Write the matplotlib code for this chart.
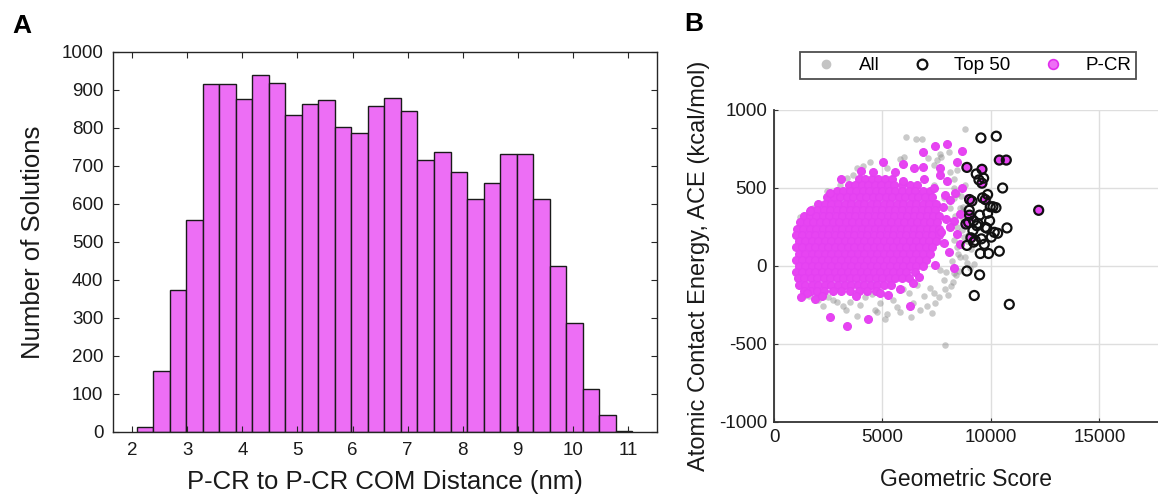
import numpy as np
import matplotlib
matplotlib.use("Agg")
import matplotlib.pyplot as plt
from matplotlib.lines import Line2D

plt.rcParams['font.family'] = ['Liberation Sans', 'DejaVu Sans']
plt.rcParams['axes.unicode_minus'] = False

# ---- panel A: histogram of P-CR to P-CR COM distance ----
bin_start = 2.08
bin_width = 0.3
counts = [13, 160, 375, 557, 915, 915, 877, 940, 918, 835, 863, 873, 803, 787, 857,
          880, 845, 716, 738, 684, 612, 656, 732, 732, 612, 436, 286, 113, 45, 3]

# ---- panel B: scatter, geometric score vs ACE ----
# dense P-CR core, one row per ACE level
pcr_rows = {
    560: [3900, 4200, 4500, 4800, 5100, 5450],
    520: [3450, 3750, 4050, 4350, 4650, 4950, 5250, 5550, 5900, 6250, 6600],
    480: [2900, 3200, 3500, 3800, 4100, 4400, 4700, 5000, 5300, 5600, 5900, 6200, 6500, 6850, 7200],
    440: [2450, 2750, 3050, 3350, 3650, 3950, 4250, 4550, 4850, 5150, 5450, 5750, 6050, 6350, 6650,
          6950, 7300],
    400: [2050, 2350, 2650, 2950, 3250, 3550, 3850, 4150, 4450, 4750, 5050, 5350, 5650, 5950, 6250,
          6550, 6850, 7150, 7450],
    360: [1700, 2000, 2300, 2600, 2900, 3200, 3500, 3800, 4100, 4400, 4700, 5000, 5300, 5600, 5900,
          6200, 6500, 6800, 7100, 7400],
    320: [1400, 1650, 1950, 2250, 2550, 2850, 3150, 3450, 3750, 4050, 4350, 4650, 4950, 5250, 5550,
          5850, 6150, 6450, 6750, 7050, 7350, 7600],
    280: [1200, 1500, 1800, 2100, 2400, 2700, 3000, 3300, 3600, 3900, 4200, 4500, 4800, 5100, 5400,
          5700, 6000, 6300, 6600, 6900, 7200, 7500],
    240: [1050, 1350, 1650, 1950, 2250, 2550, 2850, 3150, 3450, 3750, 4050, 4350, 4650, 4950, 5250,
          5550, 5850, 6150, 6450, 6750, 7050, 7350, 7600],
    200: [1000, 1300, 1600, 1900, 2200, 2500, 2800, 3100, 3400, 3700, 4000, 4300, 4600, 4900, 5200,
          5500, 5800, 6100, 6400, 6700, 7000, 7300, 7600],
    160: [1150, 1450, 1750, 2050, 2350, 2650, 2950, 3250, 3550, 3850, 4150, 4450, 4750, 5050, 5350,
          5650, 5950, 6250, 6550, 6850, 7150, 7450],
    120: [1000, 1300, 1600, 1900, 2200, 2500, 2800, 3100, 3400, 3700, 4000, 4300, 4600, 4900, 5200,
          5500, 5800, 6100, 6400, 6700, 7000, 7300],
    80: [1150, 1450, 1750, 2050, 2350, 2650, 2950, 3250, 3550, 3850, 4150, 4450, 4750, 5050, 5350,
         5650, 5950, 6250, 6550, 6850, 7200],
    40: [1000, 1300, 1600, 1900, 2200, 2500, 2800, 3100, 3400, 3700, 4000, 4300, 4600, 4900, 5200,
         5500, 5800, 6100, 6400, 6700, 7000],
    0: [1150, 1450, 1750, 2050, 2350, 2650, 2950, 3250, 3550, 3850, 4150, 4450, 4750, 5050, 5350,
        5650, 5950, 6250, 6550, 6850],
    -40: [1000, 1300, 1600, 1900, 2200, 2500, 2800, 3100, 3400, 3700, 4000, 4300, 4600, 4900, 5200,
          5500, 5800, 6100, 6500],
    -80: [1100, 1400, 1700, 2000, 2300, 2600, 2900, 3200, 3500, 3800, 4100, 4400, 4700, 5000, 5300,
          5600, 5900, 6200],
    -120: [1150, 1450, 1750, 2050, 2350, 2650, 2950, 3250, 3550, 3850, 4150, 4450, 4750, 5050, 5400],
    -160: [1400, 1700, 2000, 2300, 2700, 3100, 3500, 3900, 4300, 4700],
}
# scattered P-CR points around the core
pcr_x_out = [7969, 7431, 6862, 8662, 8431, 5969, 5015, 6431, 6862, 7662, 8354, 8662, 7892, 8585,
             8277, 8123, 8431, 8585, 8046, 8277, 7431, 6662, 6277, 5277, 4354, 3354, 2585, 1508,
             2585, 1662, 4585, 5969, 7354, 7969, 7662, 3100, 4000, 5600, 6900, 1250, 1900,
             7800, 7950, 7700, 8100, 7850, 2200, 3800, 4900, 5800, 6400,
             8892, 10385, 10708, 9585, 9585, 9015, 9738, 9015, 8846, 9077, 12200, 8957, 9003]
pcr_y_out = [784, 767, 731, 735, 668, 653, 664, 626, 637, 626, 468, 500, 458, 332,
             290, 248, 206, 143, 90, -15, 6, -71, -256, -189, -340, -382, -326, -172,
             468, 353, 605, 542, 500, 542, 584, 560, 610, 600, 560, -200, -210,
             380, 300, 220, 420, 150, -195, -190, -175, -150, -110,
             632, 679, 679, 620, 531, 426, 426, 326, 269, 181, 357, 436, 314]

# "All" solutions visible outside the P-CR core
all_x = [8815, 6092, 6554, 6815, 5785, 4430, 3660, 5200, 7354, 8046, 8430, 8277, 8277, 8585,
         8430, 8738, 8585, 8277, 7815, 8000, 7430, 7046, 6430, 5815, 5200, 4738, 3815, 3200,
         2277, 1969, 7892, 7354, 7660, 8430, 8815, 8277, 8123, 7815, 7354, 1200, 1815, 2430,
         3046, 3815, 3354, 8900, 9100, 8700, 8600, 8950, 8400, 8150, 7900, 7700, 8300, 8800,
         9050, 8500, 7600, 7200, 6900, 6200, 5500, 4900, 4200, 3500, 2900, 2500, 1600, 7500,
         8200, 8700, 9200, 8050, 7750, 6600, 5950, 4500, 3950, 2700, 8350, 8650, 8900, 8550,
         8250, 7950, 8750, 8450, 8100, 7650, 7300, 6750, 6300, 5650, 5100, 4650, 3300, 2050,
         1400, 8600, 8900, 7100, 6000, 4100]
all_y = [878, 826, 815, 815, 689, 664, 584, 626, 647, 731, 616, 500, 437, 374,
         248, 185, 59, -46, -88, -183, -235, -256, -235, -298, -309, -298, -319, -256,
         -256, -193, -504, -172, -25, 122, 59, 164, 374, 437, 521, 311, 374, 479,
         521, 626, 563, 20, 110, 300, 450, 200, -60, -130, -150, 700, 560, 520,
         -10, 80, -200, -140, -190, -170, -220, -240, -200, -230, -230, -200, -190, 680,
         30, 380, 10, 250, 150, -120, -150, -180, -250, -220, 320, 230, 160, -30,
         -100, -40, 360, 460, 600, 720, -300, -280, -330, -260, -340, -280, -280, -215,
         -195, 140, 260, 690, 700, 640]

# top 50 docking solutions
top_x = [9538, 10246, 8892, 10385, 10708, 9585, 9323, 9446, 9662, 9585, 10538, 9015, 9738, 9846,
         9969, 10092, 9000, 9477, 9015, 9200, 9938, 8846, 9400, 9815, 10738, 10308, 10015, 9077,
         9277, 9692, 8892, 9508, 9892, 10385, 9200, 8892, 9477, 9231, 10846, 12200, 9169, 9354,
         9615, 9846, 10154, 9123, 9738, 8969, 10231, 9554]
top_y = [821, 832, 632, 679, 679, 620, 590, 552, 563, 531, 500, 426, 426, 458,
         380, 380, 357, 326, 326, 290, 290, 269, 273, 242, 244, 210, 185, 181,
         164, 139, 132, 80, 80, 95, 153, -32, -57, -189, -246, 357, 227, 258,
         437, 338, 216, 416, 248, 279, 374, 174]

pcr_x = [x for y, xs in pcr_rows.items() for x in xs] + pcr_x_out
pcr_y = [y for y, xs in pcr_rows.items() for x in xs] + pcr_y_out

W, H = 1158, 497
fig = plt.figure(figsize=(W / 100, H / 100), dpi=100)

# panel A
ax1 = fig.add_axes([113 / W, 1 - 432 / H, (657 - 113) / W, (432 - 52) / H])
edges = bin_start + bin_width * np.arange(len(counts) + 1)
ax1.bar(edges[:-1], counts, width=bin_width, align='edge', facecolor='#ED6EF5',
        edgecolor='#1a1a1a', linewidth=1.0)
ax1.set_xlim(1.65, 11.53)
ax1.set_ylim(0, 1000)
ax1.set_xticks(range(2, 12))
ax1.set_yticks(range(0, 1001, 100))
ax1.tick_params(direction='in', top=True, right=True, length=4, width=0.8,
                labelsize=13.5, colors='#262626', labelcolor='#1a1a1a', pad=7)
for s in ax1.spines.values():
    s.set_linewidth(1.0)
    s.set_color('#262626')
ax1.set_xlabel('P-CR to P-CR COM Distance (nm)', fontsize=18.5, labelpad=8, color='#1a1a1a')
ax1.set_ylabel('Number of Solutions', fontsize=18.5, labelpad=12, color='#1a1a1a')

# panel B
ax2 = fig.add_axes([774 / W, 1 - 422 / H, (W - 774) / W, (422 - 110) / H])
ax2.grid(True, color='#dedede', linewidth=1.0)
ax2.set_axisbelow(True)
ax2.scatter(all_x, all_y, s=22, color='#8a8a8a', alpha=0.45, linewidths=0, zorder=2)
ax2.scatter(pcr_x, pcr_y, s=32, facecolor='#E744F2', edgecolor='#E440F1',
            linewidths=0.8, zorder=3)
ax2.scatter(top_x, top_y, s=42, facecolor='none', edgecolor='#111111',
            linewidths=1.6, zorder=4)
ax2.set_xlim(0, 17700)
ax2.set_ylim(-1000, 1000)
ax2.set_xticks([0, 5000, 10000, 15000])
ax2.set_yticks([-1000, -500, 0, 500, 1000])
ax2.spines['top'].set_visible(False)
ax2.spines['right'].set_visible(False)
for k in ('left', 'bottom'):
    ax2.spines[k].set_linewidth(1.3)
    ax2.spines[k].set_color('#333333')
ax2.tick_params(direction='in', length=3, width=0.8, labelsize=13.5,
                colors='#333333', labelcolor='#1a1a1a', pad=5)
ax2.set_xlabel('Geometric Score', fontsize=16.5, labelpad=16, color='#1a1a1a')
ax2.set_ylabel('Atomic Contact Energy, ACE (kcal/mol)', fontsize=17, labelpad=6,
               color='#1a1a1a')

handles = [
    Line2D([], [], linestyle='none', marker='o', markersize=6, markerfacecolor='#c4c4c4',
           markeredgecolor='#c4c4c4'),
    Line2D([], [], linestyle='none', marker='o', markersize=7, markerfacecolor='none',
           markeredgecolor='#111111', markeredgewidth=1.6),
    Line2D([], [], linestyle='none', marker='o', markersize=7, markerfacecolor='#EE70F5',
           markeredgecolor='#E22EEE', markeredgewidth=1.2),
]
leg = fig.legend(handles, ['All', 'Top 50', 'P-CR'], ncol=3, loc='center',
                 bbox_to_anchor=((799 + 1137) / 2 / W, 1 - 65.5 / H), fontsize=13.5,
                 frameon=True, fancybox=False, edgecolor='#222222', handletextpad=0.6,
                 columnspacing=1.1, borderpad=0.25, handlelength=2.3)
leg.get_frame().set_linewidth(1.3)

fig.text(12 / W, 1 - 33 / H, 'A', fontsize=19, fontweight='bold')
fig.text(684 / W, 1 - 31 / H, 'B', fontsize=19, fontweight='bold')

fig.savefig('out.png', dpi=100)
